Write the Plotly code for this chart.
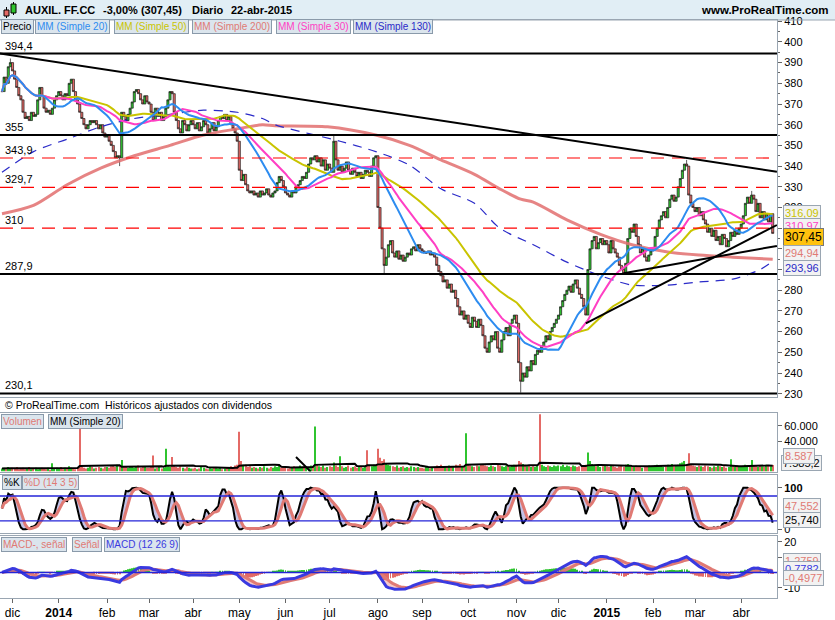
import numpy as np
import pandas as pd
import plotly.graph_objects as go

# ---------------- data ----------------
start_date = "2013-11-25"
close = (
    [376, 383, 380, 388, 390] +                                                     # nov 2013
    [386, 382, 378, 374, 372, 366, 363, 364, 362, 366, 364, 365, 372, 378, 374, 368, 366, 367, 365, 368, 372, 374] +  # dic
    [376, 374, 372, 375, 374, 380, 382, 376, 372, 370, 366, 363, 360, 358, 360, 362, 361, 362, 360, 358, 360, 356, 354] +  # ene 2014
    [355, 352, 350, 347, 344, 345, 344, 366, 364, 362, 365, 368, 371, 376, 377, 375, 372, 370, 374, 371] +  # feb
    [370, 366, 362, 368, 364, 366, 362, 364, 368, 372, 376, 375, 366, 362, 358, 356, 362, 360, 357, 360, 362] +  # mar
    [360, 358, 361, 357, 359, 362, 360, 356, 358, 361, 357, 359, 362, 364, 363, 365, 362, 364, 360, 358, 356, 352] +  # abr
    [338, 333, 336, 331, 328, 327, 328, 326, 327, 325, 328, 326, 327, 329, 326, 325, 327, 328, 332, 335, 333, 330] +  # may
    [327, 326, 325, 328, 327, 330, 331, 333, 335, 334, 337, 341, 344, 343, 345, 342, 344, 340, 343, 338, 341] +  # jun
    [339, 337, 352, 343, 338, 340, 337, 339, 342, 338, 336, 339, 337, 335, 337, 334, 336, 338, 337, 335, 340, 344, 345] +  # jul
    [320, 310, 300, 292, 296, 302, 304, 298, 296, 299, 295, 297, 294, 296, 298, 297, 300, 301, 299, 302, 300] +  # ago
    [299, 298, 298, 299, 297, 298, 296, 292, 289, 287, 284, 285, 281, 283, 279, 280, 276, 272, 268, 270, 266, 268] +  # sep
    [264, 262, 267, 265, 262, 266, 263, 258, 252, 250, 255, 258, 256, 260, 252, 250, 256, 260, 262, 258, 264, 266, 268] +  # oct
    [264, 245, 236, 240, 238, 243, 241, 246, 244, 249, 251, 250, 253, 255, 258, 256, 260, 262, 264, 266] +  # nov
    [268, 272, 275, 278, 280, 282, 279, 283, 285, 281, 278, 276, 272, 268, 290, 300, 304, 306, 300, 303, 305, 302, 304] +  # dic
    [302, 298, 304, 300, 298, 296, 292, 290, 288, 293, 305, 310, 308, 312, 306, 302, 298, 300, 296, 294, 297, 299] +  # ene 2015
    [300, 306, 310, 314, 316, 318, 315, 320, 324, 326, 323, 325, 330, 334, 338, 341, 340, 326, 322, 320] +  # feb
    [318, 320, 316, 318, 314, 312, 308, 310, 306, 309, 304, 306, 302, 307, 305, 301, 304, 308, 306, 309, 307, 310] +  # mar
    [312, 316, 322, 325, 322, 326, 324, 318, 322, 315, 318, 314, 317, 313, 317, 307.45]  # abr
)
wick_high = {4: 392, 158: 355, 326: 343, 357: 328}
wick_low = {56: 340, 182: 287.5, 247: 230.5}

vol_k = (
    [4, 5, 3, 6, 4] +
    [5, 4, 6, 3, 4, 5, 3, 4, 6, 3, 4, 5, 3, 4, 5, 4, 3, 5, 2, 11, 4, 5] +
    [4, 6, 3, 5, 4, 7, 5, 4, 3, 5, 56, 6, 5, 4, 5, 7, 6, 4, 5, 6, 5, 4, 6] +
    [6, 5, 7, 8, 6, 9, 8, 15, 7, 6, 5, 6, 7, 5, 6, 8, 5, 6, 7, 5] +
    [5, 6, 21, 4, 5, 6, 4, 5, 30, 7, 6, 19, 8, 6, 5, 7, 5, 4, 6, 5, 4] +
    [4, 5, 3, 4, 6, 5, 4, 3, 5, 4, 6, 5, 4, 5, 3, 4, 6, 5, 7, 6, 8, 9] +
    [52, 14, 9, 8, 6, 7, 5, 6, 5, 4, 6, 5, 7, 5, 4, 6, 5, 7, 6, 8, 5, 6] +
    [5, 4, 6, 5, 7, 6, 5, 8, 6, 7, 5, 6, 8, 7, 59, 9, 7, 6, 8, 5, 6] +
    [7, 6, 12, 8, 6, 20, 7, 5, 6, 8, 5, 6, 7, 5, 6, 7, 5, 6, 28, 8, 7, 9, 8] +
    [30, 18, 14, 16, 10, 9, 8, 7, 6, 8, 5, 6, 7, 5, 6, 5, 7, 6, 5, 6, 5] +
    [5, 4, 6, 5, 4, 5, 6, 8, 7, 9, 6, 7, 5, 8, 6, 7, 9, 8, 10, 7, 6, 50] +
    [9, 8, 7, 6, 8, 7, 9, 10, 8, 7, 6, 8, 7, 6, 9, 8, 7, 6, 8, 7, 6, 8, 9] +
    [9, 14, 12, 10, 8, 7, 8, 6, 7, 6, 8, 75, 9, 7, 6, 8, 7, 6, 8, 7] +
    [8, 7, 9, 6, 8, 7, 6, 8, 7, 6, 7, 8, 6, 9, 25, 14, 10, 8, 7, 9, 6, 7, 8] +
    [7, 6, 8, 7, 6, 5, 7, 8, 6, 9, 10, 8, 7, 6, 8, 7, 6, 5, 7, 6, 8, 7] +
    [7, 8, 9, 7, 8, 6, 7, 9, 8, 10, 7, 8, 9, 11, 12, 14, 10, 24, 9, 8] +
    [7, 6, 8, 7, 6, 8, 7, 6, 5, 7, 6, 8, 7, 6, 7, 5, 6, 16, 7, 6, 8, 7] +
    [6, 7, 9, 8, 7, 15, 8, 7, 6, 8, 7, 6, 9, 8, 7, 8.587]
)

# long moving averages (bar index, value)
sma200_idx = [0, 15, 31, 47, 63, 80, 96, 112, 124, 130, 155, 178, 194, 209, 225, 237, 247, 253, 269, 285, 300, 317, 332, 348, 367]
sma200_val = [317, 321, 331, 339, 345, 350, 355, 358, 360, 359.5, 359, 355, 350, 343, 336, 329, 324, 322.6, 314, 307, 302, 298.5, 297, 296, 294.94]
sma130_idx = [0, 15, 31, 47, 63, 80, 96, 112, 124, 130, 161, 178, 194, 209, 225, 237, 253, 269, 285, 300, 317, 332, 348, 361, 367]
sma130_val = [337, 347, 353, 359, 363, 365, 367, 366, 363, 360, 352, 347, 340.5, 329, 322, 310, 302, 293.6, 287, 282.5, 282.5, 284, 285.4, 290, 293.96]

# horizontal levels and trend lines
level_vals = [394.4, 355, 343.9, 329.7, 310, 287.9, 230.1]
level_text = ["394,4", "355", "343,9", "329,7", "310", "287,9", "230,1"]
level_kind = ["solid", "solid", "dash", "dash", "dash", "solid", "solid"]
trend_x0 = [-1, 278, 296]
trend_y0 = [394.4, 264.0, 288.2]
trend_x1 = [369, 369, 369]
trend_y1 = [337.3, 311.5, 301.4]
vol_line_x = [140, 147]
vol_line_y = [19000, 0]

month_text = ["dic", "<b>2014</b>", "feb", "mar", "abr", "may", "jun", "jul", "ago", "sep",
              "oct", "nov", "dic", "<b>2015</b>", "feb", "mar", "abr"]

# ---------------- derived series ----------------
n = len(close)
dates = pd.bdate_range(start_date, periods=n)
idx = np.arange(n)
c = np.array(close, float)
o = np.r_[c[0], c[:-1]]
h = np.maximum(o, c)
l = np.minimum(o, c)
for k_, v_ in wick_high.items():
    h[k_] = max(h[k_], v_)
for k_, v_ in wick_low.items():
    l[k_] = min(l[k_], v_)
vol = np.array(vol_k) * 1000.0
cs = pd.Series(c)
sma20 = cs.rolling(20, min_periods=1).mean()
sma30 = cs.rolling(30, min_periods=1).mean()
sma50 = cs.rolling(50, min_periods=1).mean()
volma = pd.Series(vol).rolling(20, min_periods=1).mean()

hh = pd.Series(h).rolling(14, min_periods=1).max()
ll = pd.Series(l).rolling(14, min_periods=1).min()
rng = (hh - ll).replace(0, np.nan)
raw = (100 * (cs - ll) / rng).fillna(50)
kline = raw.rolling(3, min_periods=1).mean()
dline = kline.rolling(5, min_periods=1).mean()

ema12 = cs.ewm(span=12, adjust=False).mean()
ema26 = cs.ewm(span=26, adjust=False).mean()
macd = ema12 - ema26
sig = macd.ewm(span=9, adjust=False).mean()
hist = macd - sig

# month ticks
ms = pd.Series(dates.to_period("M"))
first_idx = [int(i) for i in ms.drop_duplicates().index[1:]]

# ---------------- figure ----------------
W, H = 835, 620
ML, MR, MT, MB = 0, 58, 20, 22
PW, PH = W - ML - MR, H - MT - MB

def px2x(px):
    return (px - ML) / PW

def px2y(py):
    return (H - MB - py) / PH

FONT = "Liberation Sans, Arial, sans-serif"
GREEN, RED = "#2fc42f", "#e46a66"

fig = go.Figure()
fig.add_trace(go.Candlestick(
    x=idx, open=o, high=h, low=l, close=c, xaxis="x", yaxis="y",
    increasing=dict(fillcolor=GREEN, line=dict(color="#1a1a1a", width=0.7)),
    decreasing=dict(fillcolor=RED, line=dict(color="#1a1a1a", width=0.7)),
    whiskerwidth=0, showlegend=False, hoverinfo="skip"))

fig.add_trace(go.Scatter(x=sma200_idx, y=sma200_val, mode="lines", xaxis="x", yaxis="y",
                         line=dict(color="rgba(226,110,110,0.85)", width=3, shape="spline", smoothing=0.8),
                         showlegend=False, hoverinfo="skip"))
fig.add_trace(go.Scatter(x=sma130_idx, y=sma130_val, mode="lines", xaxis="x", yaxis="y",
                         line=dict(color="#2a2ac8", width=1.2, dash="9px,7px", shape="spline", smoothing=0.8),
                         showlegend=False, hoverinfo="skip"))
for s, col in [(sma50, "#c9c400"), (sma30, "#ff3fc4"), (sma20, "#2d8cf0")]:
    fig.add_trace(go.Scatter(x=idx, y=s, mode="lines", xaxis="x", yaxis="y",
                             line=dict(color=col, width=2), showlegend=False, hoverinfo="skip"))

# volume
vcol = [GREEN if c[i] >= o[i] else RED for i in range(n)]
fig.add_trace(go.Bar(x=idx, y=vol, marker=dict(color=vcol, line=dict(width=0)), xaxis="x2", yaxis="y2",
                     width=0.55, showlegend=False, hoverinfo="skip"))
fig.add_trace(go.Scatter(x=idx, y=volma, mode="lines", xaxis="x2", yaxis="y2",
                         line=dict(color="#000000", width=2), showlegend=False, hoverinfo="skip"))
fig.add_trace(go.Scatter(x=vol_line_x, y=vol_line_y, mode="lines", xaxis="x2", yaxis="y2",
                         line=dict(color="#000000", width=2), showlegend=False, hoverinfo="skip"))

# stochastic
fig.add_trace(go.Scatter(x=idx, y=kline, mode="lines", xaxis="x3", yaxis="y3",
                         line=dict(color="#000000", width=2), showlegend=False, hoverinfo="skip"))
fig.add_trace(go.Scatter(x=idx, y=dline, mode="lines", xaxis="x3", yaxis="y3", fill="tonexty",
                         fillcolor="rgba(120,120,200,0.45)",
                         line=dict(color="#e07a74", width=3), showlegend=False, hoverinfo="skip"))

# macd
hcol = [GREEN if v >= 0 else RED for v in hist]
fig.add_trace(go.Bar(x=idx, y=hist, marker=dict(color=hcol, line=dict(width=0)), xaxis="x4", yaxis="y4",
                     width=0.4, showlegend=False, hoverinfo="skip"))
fig.add_trace(go.Scatter(x=idx, y=sig, mode="lines", xaxis="x4", yaxis="y4",
                         line=dict(color="#e07a74", width=3), showlegend=False, hoverinfo="skip"))
fig.add_trace(go.Scatter(x=idx, y=macd, mode="lines", xaxis="x4", yaxis="y4", fill="tonexty",
                         fillcolor="rgba(232,120,120,0.4)",
                         line=dict(color="#3a3ae0", width=3), showlegend=False, hoverinfo="skip"))

xr = [-0.95, -0.95 + PW / 2.1]
dom_main = [px2y(397), 1.0]
dom_vol = [px2y(471.6), px2y(413)]
dom_sto = [px2y(533), px2y(475)]
dom_mac = [0.0, px2y(535.7)]

axc = dict(showgrid=False, zeroline=False, showline=True, mirror=True, linecolor="#9aa6b2", linewidth=1)
yc = dict(side="right", ticks="outside", ticklen=4, tickcolor="#666", tickfont=dict(size=11, color="#000", family=FONT), **axc)

shapes = []
# header bar
shapes.append(dict(type="rect", xref="paper", yref="paper", x0=px2x(0), x1=px2x(W), y0=px2y(20), y1=px2y(0),
                   fillcolor="#e1eef5", line=dict(width=0), layer="below"))
shapes.append(dict(type="line", xref="paper", yref="paper", x0=px2x(0), x1=px2x(W), y0=px2y(20), y1=px2y(20),
                   line=dict(color="#9aa6b2", width=1)))
# icon
shapes.append(dict(type="line", xref="paper", yref="paper", x0=px2x(6.5), x1=px2x(6.5), y0=px2y(18), y1=px2y(7),
                   line=dict(color="#000", width=1)))
shapes.append(dict(type="rect", xref="paper", yref="paper", x0=px2x(4), x1=px2x(9), y0=px2y(16), y1=px2y(10),
                   fillcolor=RED, line=dict(color="#000", width=1)))
shapes.append(dict(type="line", xref="paper", yref="paper", x0=px2x(13.5), x1=px2x(13.5), y0=px2y(15), y1=px2y(2),
                   line=dict(color="#000", width=1)))
shapes.append(dict(type="rect", xref="paper", yref="paper", x0=px2x(11), x1=px2x(16), y0=px2y(13), y1=px2y(4),
                   fillcolor=GREEN, line=dict(color="#000", width=1)))

for v, kind in zip(level_vals, level_kind):
    if kind == "solid":
        ln = dict(color="#000000", width=2)
    else:
        ln = dict(color="#ff0000", width=1.2, dash="13px,8px")
    shapes.append(dict(type="line", xref="paper", yref="y", x0=0, x1=1, y0=v, y1=v, line=ln))
for x0, y0, x1, y1 in zip(trend_x0, trend_y0, trend_x1, trend_y1):
    shapes.append(dict(type="line", xref="x", yref="y", x0=x0, y0=y0, x1=x1, y1=y1,
                       line=dict(color="#000000", width=2)))
for v in [80, 20]:
    shapes.append(dict(type="line", xref="paper", yref="y3", x0=0, x1=1, y0=v, y1=v,
                       line=dict(color="#2424d8", width=1.3)))
shapes.append(dict(type="line", xref="paper", yref="y4", x0=0, x1=1, y0=0, y1=0,
                   line=dict(color="#2424d8", width=1.5)))

ann = []
def txt(x, y, s, color="#000", size=11, anchor="left", bg=None, border=None, pad=1):
    d = dict(xref="paper", yref="paper", x=px2x(x), y=px2y(y), text=s, showarrow=False,
             xanchor=anchor, yanchor="middle", font=dict(size=size, color=color, family=FONT), borderpad=pad)
    if bg:
        d["bgcolor"] = bg
    if border:
        d["bordercolor"] = border
        d["borderwidth"] = 1
    ann.append(d)

# header texts
txt(23, 10, "<b>AUXIL. FF.CC</b>", size=11)
txt(101, 10, "<b>-3,00% (307,45)</b>", size=11)
txt(190, 10, "<b>Diario</b>", size=11)
txt(229, 10, "<b>22-abr-2015</b>", size=11)
txt(831, 10, "<b>www.ProRealTime.com</b>", size=11.5, anchor="right")

LBG, LBD = "#dbe5ed", "#8a9aaa"
def strip(items, y):
    for x, s, col in items:
        txt(x, y, s, color=col, size=10, bg=LBG, border=LBD)

strip([(1, "Precio", "#000"), (35, "MM (Simple 20)", "#2d8cf0"), (114, "MM (Simple 50)", "#c9c400"),
       (192, "MM (Simple 200)", "#e07a74"), (276, "MM (Simple 30)", "#ff3fc4"), (353, "MM (Simple 130)", "#2a2ac8")], 27)
txt(3, 405, "© ProRealTime.com  Históricos ajustados con dividendos", size=10.5)
strip([(1, "Volumen", "#e07a74"), (48, "MM (Simple 20)", "#000")], 421)
strip([(2, "%K", "#000"), (22, "%D (14 3 5)", "#e07a74")], 482)
strip([(1, "MACD-, señal", "#e07a74"), (72, "Señal", "#e07a74"), (104, "MACD (12 26 9)", "#3a3ae0")], 544)

for v, t in zip(level_vals, level_text):
    ann.append(dict(xref="paper", yref="y", x=px2x(3), y=v, text=t, showarrow=False, xanchor="left",
                    yanchor="bottom", yshift=0, font=dict(size=11, color="#000", family=FONT)))

# right value boxes
BX = 783
BBG = "#f2f2f2"
BS = 11
txt(BX, 219, "313,16", color="#2d8cf0", bg=BBG, border="#9aa6b2", size=BS)
txt(BX, 212.5, "316,09", color="#c9c400", bg=BBG, border="#9aa6b2", size=BS)
txt(BX, 226, "310,97", color="#ff3fc4", bg=BBG, border="#9aa6b2", size=BS)
txt(BX, 236.5, "307,45", color="#000", bg="#ffc20e", border="#777", size=12)
txt(BX, 253, "294,94", color="#e07a74", bg=BBG, border="#9aa6b2", size=BS)
txt(BX, 268, "293,96", color="#2a2ac8", bg=BBG, border="#9aa6b2", size=BS)
txt(781, 463, "7.585,2", color="#000", bg=BBG, border="#9aa6b2", size=BS)
txt(783, 456, "8.587", color="#e07a74", bg=BBG, border="#9aa6b2", size=BS)
txt(783, 506, "47,552", color="#e07a74", bg=BBG, border="#9aa6b2", size=BS)
txt(783, 520, "25,740", color="#000", bg=BBG, border="#9aa6b2", size=BS)
txt(783, 561, "1,2759", color="#e07a74", bg=BBG, border="#9aa6b2", size=BS)
txt(783, 569, "0,7782", color="#3a3ae0", bg=BBG, border="#9aa6b2", size=BS)
txt(783, 578, "-0,4977", color="#e07a74", bg=BBG, border="#9aa6b2", size=BS)

fig.update_layout(
    width=W, height=H, margin=dict(l=ML, r=MR, t=MT, b=MB),
    paper_bgcolor="#ffffff", plot_bgcolor="#ffffff",
    font=dict(family=FONT, size=11, color="#000"),
    showlegend=False, bargap=0.4, boxgap=0.0, boxgroupgap=0.0, hovermode=False,
    xaxis=dict(domain=[0, 1], range=xr, anchor="y", showticklabels=False, ticks="",
               rangeslider=dict(visible=False), **axc),
    xaxis2=dict(domain=[0, 1], matches="x", anchor="y2", showticklabels=False, ticks="", **axc),
    xaxis3=dict(domain=[0, 1], matches="x", anchor="y3", showticklabels=False, ticks="", **axc),
    xaxis4=dict(domain=[0, 1], matches="x", anchor="y4", tickmode="array", tickvals=first_idx, ticktext=month_text,
                ticks="outside", ticklen=4, tickcolor="#666", tickfont=dict(size=12, color="#000", family=FONT), **axc),
    yaxis=dict(domain=dom_main, range=[228.4, 410.6], anchor="x", tickmode="linear", tick0=230, dtick=10,
               minor=dict(ticks="outside", ticklen=2, dtick=5, tickcolor="#666"), **yc),
    yaxis2=dict(domain=dom_vol, range=[0, 76600], anchor="x2", tickmode="array",
                tickvals=[40000, 60000], ticktext=["40.000", "60.000"], **yc),
    yaxis3=dict(domain=dom_sto, range=[-9, 130.5], anchor="x3", tickmode="array",
                tickvals=[0, 100], ticktext=["0", "<b>100</b>"], **yc),
    yaxis4=dict(domain=dom_mac, range=[-16.6, 23.9], anchor="x4", tickmode="array",
                tickvals=[-10, 10, 20], ticktext=["-10", "10", "20"], **yc),
    shapes=shapes, annotations=ann,
)

fig.write_html("out.html")
